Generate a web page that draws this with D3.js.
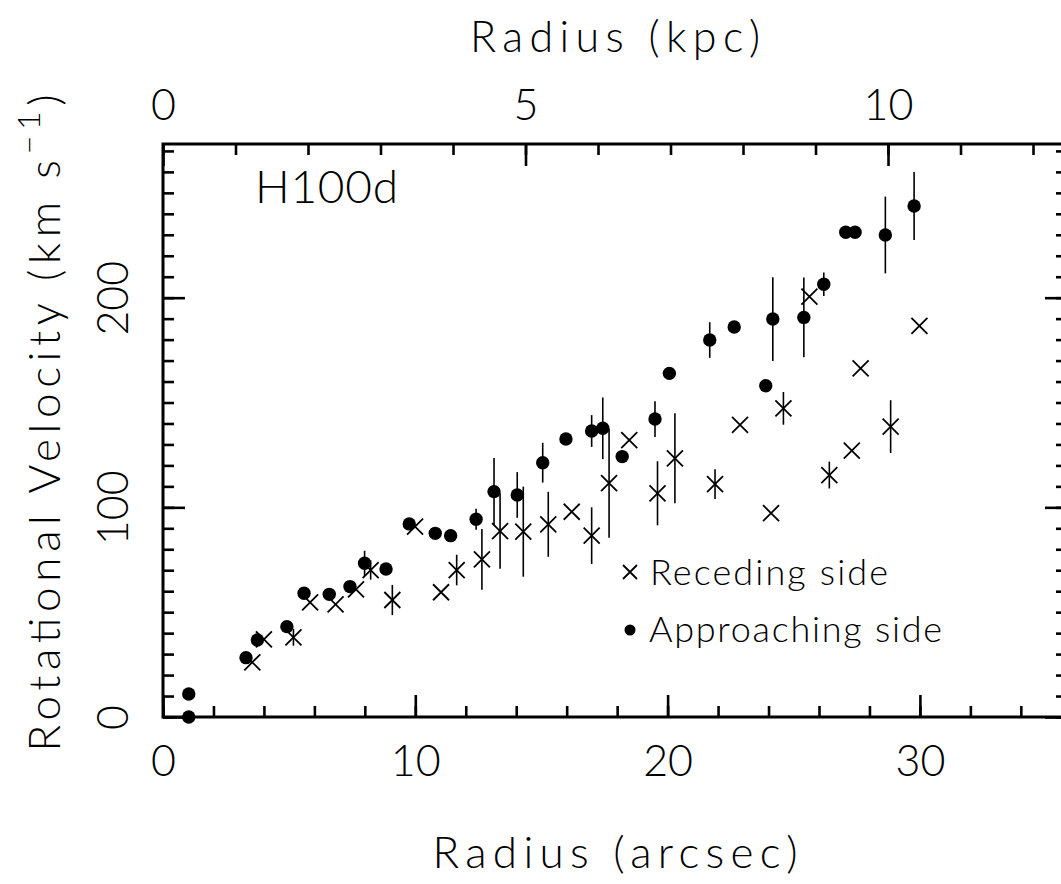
<!DOCTYPE html>
<html>
<head>
<meta charset="utf-8">
<script src="https://cdn.jsdelivr.net/npm/d3@7"></script>
<style>
  body { margin: 0; background: #fff; }
  svg { display: block; }
  text { font-family: "Lato", "Open Sans", "DejaVu Sans", sans-serif; font-weight: 300; fill: #000; }
</style>
</head>
<body>
<div id="chart"></div>
<script>
// approaching side (filled dots): radius in arcsec, velocity, error
let approachR   = [1.02, 1.02, 3.29, 3.74, 4.91, 5.59, 6.59, 7.41, 7.99, 8.84, 9.76, 10.79, 11.40, 12.41, 13.12, 14.04, 15.05, 15.97, 16.99, 17.43, 18.2, 19.5, 20.07, 21.67, 22.64, 23.89, 24.17, 25.4, 26.19, 27.06, 27.43, 28.63, 29.77];
let approachV   = [0, 11.0, 28.3, 36.7, 43.1, 59.0, 58.5, 62.2, 73.3, 70.6, 92.1, 87.6, 86.5, 94.3, 107.5, 105.9, 121.3, 132.6, 136.4, 137.7, 124.2, 142.1, 163.9, 179.8, 186.0, 158.0, 189.8, 190.6, 206.4, 231.2, 231.2, 229.9, 243.7];
let approachErr = [0, 0, 0, 0, 0, 0, 0, 0, 6, 0, 0, 0, 0, 5, 16, 10.9, 9.5, 0, 7.6, 14.7, 0, 8.5, 0, 8.5, 0, 0, 20, 19, 5.6, 0, 0, 18.3, 16.2];

// receding side (crosses)
let recedeR   = [3.54, 4.0, 5.17, 5.83, 6.84, 7.65, 8.23, 9.09, 9.99, 11.02, 11.64, 12.64, 13.36, 14.28, 15.27, 16.2, 16.99, 17.68, 18.48, 19.6, 20.29, 21.88, 22.87, 24.1, 24.59, 25.62, 26.41, 27.3, 27.65, 28.84, 29.98];
let recedeV   = [26.1, 37.0, 38.0, 54.7, 53.7, 60.9, 70.1, 55.8, 90.8, 59.5, 70.1, 75.2, 88.7, 88.4, 91.9, 97.9, 86.5, 111.5, 132.1, 106.7, 123.4, 111.1, 139.3, 97.2, 147.2, 200.5, 115.4, 127.0, 166.3, 138.5, 186.6];
let recedeErr = [0, 0, 4, 0, 0, 0, 4.6, 7.2, 0, 0, 7.3, 14.5, 18, 21.5, 15.5, 0, 13.5, 26, 0, 15.3, 21.5, 7.1, 0, 0, 7.8, 0, 6.4, 0, 0, 12.6, 0];

let xMajorTicks = [0, 10, 20, 30];
let kpcMajorTicks = [0, 5, 10];
let yMajorTicks = [0, 100, 200];
let legendLabels = ["Receding side", "Approaching side"];
let galaxyLabel = "H100d";

let kpcPerArcsec = 0.348;
let xMax = 35.83, yMax = 273.3;

let width = 1061, height = 884;
let margin = {top: 144, left: 163, right: 1067, bottom: 717};

let svg = d3.select("#chart").append("svg")
    .attr("width", width)
    .attr("height", height);

let x = d3.scaleLinear().domain([0, xMax]).range([margin.left, margin.right]);
let xk = d3.scaleLinear().domain([0, xMax * kpcPerArcsec]).range([margin.left, margin.right]);
let y = d3.scaleLinear().domain([0, yMax]).range([margin.bottom, margin.top]);

let approach = approachR.map((r, i) => ({r: r, v: approachV[i], e: approachErr[i]}));
let recede = recedeR.map((r, i) => ({r: r, v: recedeV[i], e: recedeErr[i]}));

// frame
svg.append("rect")
    .attr("x", margin.left).attr("y", margin.top)
    .attr("width", margin.right - margin.left)
    .attr("height", margin.bottom - margin.top)
    .attr("fill", "none").attr("stroke", "#000").attr("stroke-width", 3);

function styleAxis(g) {
    g.select(".domain").remove();
    g.selectAll("line").attr("stroke", "#000").attr("stroke-width", 2.6);
    g.selectAll("text").attr("font-size", 43).attr("fill", "#000");
}

// bottom axis
svg.append("g").attr("transform", "translate(0," + margin.bottom + ")")
    .call(d3.axisBottom(x).tickValues(d3.range(0, xMax, 2)).tickSize(-11).tickFormat(""))
    .call(styleAxis);
svg.append("g").attr("transform", "translate(0," + margin.bottom + ")")
    .call(d3.axisBottom(x).tickValues(xMajorTicks).tickSize(-22).tickPadding(28).tickFormat(d3.format("d")))
    .call(styleAxis);

// top axis (kpc)
svg.append("g").attr("transform", "translate(0," + margin.top + ")")
    .call(d3.axisTop(xk).tickValues(d3.range(0, xMax * kpcPerArcsec, 1)).tickSize(-11).tickFormat(""))
    .call(styleAxis);
svg.append("g").attr("transform", "translate(0," + margin.top + ")")
    .call(d3.axisTop(xk).tickValues(kpcMajorTicks).tickSize(-22).tickPadding(24).tickFormat(d3.format("d")))
    .call(styleAxis);

// left axis
svg.append("g").attr("transform", "translate(" + margin.left + ",0)")
    .call(d3.axisLeft(y).tickValues(d3.range(0, yMax, 10)).tickSize(-11).tickFormat(""))
    .call(styleAxis);
let yAxisG = svg.append("g").attr("transform", "translate(" + margin.left + ",0)")
    .call(d3.axisLeft(y).tickValues(yMajorTicks).tickSize(-22).tickFormat(d3.format("d")))
    .call(styleAxis);
yAxisG.selectAll("text")
    .attr("transform", "rotate(-90)")
    .attr("x", 0).attr("y", -35).attr("dy", 0)
    .attr("text-anchor", "middle");

// right axis
svg.append("g").attr("transform", "translate(" + margin.right + ",0)")
    .call(d3.axisRight(y).tickValues(d3.range(0, yMax, 10)).tickSize(-11).tickFormat(""))
    .call(styleAxis);
svg.append("g").attr("transform", "translate(" + margin.right + ",0)")
    .call(d3.axisRight(y).tickValues(yMajorTicks).tickSize(-22).tickFormat(""))
    .call(styleAxis);

// axis titles
let cx = (margin.left + margin.right) / 2;
svg.append("text").attr("x", cx).attr("y", 52)
    .attr("text-anchor", "middle").attr("font-size", 43)
    .attr("textLength", 290).attr("lengthAdjust", "spacing")
    .text("Radius (kpc)");
svg.append("text").attr("x", cx).attr("y", 868)
    .attr("text-anchor", "middle").attr("font-size", 44)
    .attr("textLength", 365).attr("lengthAdjust", "spacing")
    .text("Radius (arcsec)");

let yTitle = svg.append("text")
    .attr("transform", "translate(60,423) rotate(-90)")
    .attr("text-anchor", "middle").attr("font-size", 44)
    .attr("textLength", 657).attr("lengthAdjust", "spacing");
yTitle.append("tspan").text("Rotational Velocity (km s");
yTitle.append("tspan").attr("dy", -20).attr("font-size", 32).text("\u22121");
yTitle.append("tspan").attr("dy", 20).text(")");

svg.append("text").attr("x", 255).attr("y", 203)
    .attr("font-size", 46)
    .attr("textLength", 143).attr("lengthAdjust", "spacing")
    .text(galaxyLabel);

// error bars
let plot = svg.append("g");
let errs = approach.concat(recede).filter(d => d.e > 0);
plot.selectAll(".err").data(errs).enter().append("line")
    .attr("class", "err")
    .attr("x1", d => x(d.r)).attr("x2", d => x(d.r))
    .attr("y1", d => y(d.v - d.e)).attr("y2", d => y(d.v + d.e))
    .attr("stroke", "#000").attr("stroke-width", 1.6);

let crossPath = "M-8,-8L8,8M-8,8L8,-8";
plot.selectAll(".rec").data(recede).enter().append("path")
    .attr("class", "rec")
    .attr("transform", d => "translate(" + x(d.r) + "," + y(d.v) + ")")
    .attr("d", crossPath)
    .attr("stroke", "#000").attr("stroke-width", 1.8).attr("fill", "none");

plot.selectAll(".app").data(approach).enter().append("circle")
    .attr("class", "app")
    .attr("cx", d => x(d.r)).attr("cy", d => y(d.v))
    .attr("r", 6.7).attr("fill", "#000");

// legend
let legend = svg.append("g");
legend.append("path")
    .attr("transform", "translate(630,572)")
    .attr("d", "M-7,-7L7,7M-7,7L7,-7")
    .attr("stroke", "#000").attr("stroke-width", 1.8);
legend.append("circle").attr("cx", 630).attr("cy", 630).attr("r", 5.5).attr("fill", "#000");
legend.append("text").attr("x", 650).attr("y", 585).attr("font-size", 36)
    .attr("textLength", 238).attr("lengthAdjust", "spacing")
    .text(legendLabels[0]);
legend.append("text").attr("x", 649).attr("y", 642).attr("font-size", 36)
    .attr("textLength", 293).attr("lengthAdjust", "spacing")
    .text(legendLabels[1]);
</script>
</body>
</html>
